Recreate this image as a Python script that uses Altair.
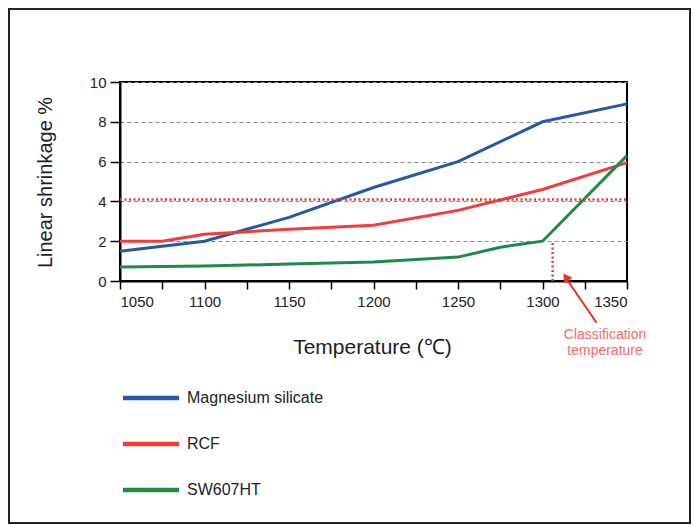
import altair as alt
import pandas as pd

# ---- data ----
series_names = ["Magnesium silicate", "RCF", "SW607HT"]
series_colors = ["#2458a8", "#f23c3c", "#1d8a48"]

mag_temp = [1050, 1100, 1150, 1200, 1250, 1300, 1350]
mag_shrink = [1.5, 2.0, 3.2, 4.7, 6.0, 8.0, 8.9]

rcf_temp = [1050, 1075, 1100, 1150, 1200, 1250, 1300, 1350]
rcf_shrink = [2.0, 2.0, 2.35, 2.6, 2.8, 3.55, 4.6, 5.95]

sw_temp = [1050, 1100, 1150, 1200, 1250, 1275, 1300, 1350]
sw_shrink = [0.7, 0.75, 0.85, 0.95, 1.2, 1.7, 2.0, 6.3]

threshold = 4.1            # red dotted horizontal line (%)
class_temp = 1306          # classification temperature (vertical dotted)
class_level = 2.0

x_ticks = list(range(1050, 1351, 25))
y_ticks = [0, 2, 4, 6, 8, 10]

FONT = "Liberation Sans"
W, H = 507, 199

rows = []
for name, ts, vs in [("Magnesium silicate", mag_temp, mag_shrink),
                     ("RCF", rcf_temp, rcf_shrink),
                     ("SW607HT", sw_temp, sw_shrink)]:
    for t, v in zip(ts, vs):
        rows.append({"series": name, "temp": t, "shrink": v})
df = pd.DataFrame(rows)

xscale = alt.Scale(domain=[1050, 1350], nice=False, zero=False)
yscale = alt.Scale(domain=[0, 10], nice=False, zero=False)
color = alt.Color("series:N", scale=alt.Scale(domain=series_names, range=series_colors), legend=None)

x_axis = alt.Axis(values=x_ticks, format="d", labelOverlap=False,
                  labelExpr="datum.value % 50 == 0 ? datum.label : ''",
                  grid=False, tickSize=8, tickWidth=1.5, labelPadding=5, labelFontSize=15,
                  title="Temperature (℃)", titleFontSize=21, titleX=252, titleY=66,
                  titleBaseline="middle", titleAlign="center")
y_axis = alt.Axis(values=y_ticks, labelOverlap=False, grid=True, gridDash=[4, 3],
                  gridColor="#8c8c8c", gridWidth=1,
                  tickSize=10, tickWidth=1.5, labelPadding=4, labelFontSize=15,
                  title="Linear shrinkage %", titleFontSize=20, titleX=-75, titleY=100,
                  titleAngle=270, titleBaseline="middle", titleAlign="center")

X = alt.X("temp:Q", scale=xscale, axis=x_axis)
Y = alt.Y("shrink:Q", scale=yscale, axis=y_axis)

lines = alt.Chart(df).mark_line(strokeWidth=3).encode(x=X, y=Y, color=color)

thr_df = pd.DataFrame({"temp": [1050], "temp2": [1350], "shrink": [threshold]})
thr = alt.Chart(thr_df).mark_rule(color="#d8403c", strokeDash=[2, 2.5], strokeWidth=2.5).encode(
    x=X, x2="temp2:Q", y=Y
)

vert_df = pd.DataFrame({"temp": [class_temp], "shrink": [0], "shrink2": [class_level]})
vert = alt.Chart(vert_df).mark_rule(color="#d8403c", strokeDash=[2, 2.5], strokeWidth=2.5).encode(
    x=X, y=Y, y2="shrink2:Q"
)

arrow_df = pd.DataFrame({"temp": [1332], "shrink": [-2.1], "temp2": [1313.8], "shrink2": [0.15]})
arrow = alt.Chart(arrow_df).mark_rule(color="#e8302c", strokeWidth=2).encode(
    x=X, y=Y, x2="temp2:Q", y2="shrink2:Q"
)
head_df = pd.DataFrame({"temp": [1313.8], "shrink": [0.2]})
head = alt.Chart(head_df).mark_point(shape="triangle-up", filled=True, size=100, angle=326,
                                     color="#e8302c", opacity=1).encode(x=X, y=Y)

note_df = pd.DataFrame({"temp": [1337, 1337], "shrink": [-2.72, -3.5],
                        "label": ["Classification", "temperature"]})
note = alt.Chart(note_df).mark_text(color="#f26a6a", fontSize=14, font=FONT, align="center",
                                    baseline="middle").encode(x=X, y=Y, text="label:N")

inner = alt.layer(lines, thr, vert, arrow, head, note)

leg_df = pd.DataFrame({"series": series_names})
leg_y = alt.Y("series:N", scale=alt.Scale(type="point", domain=series_names, range=[316, 408], padding=0),
              axis=None)
leg_rule = alt.Chart(leg_df).mark_rule(strokeWidth=4.5).encode(
    x=alt.value(3), x2=alt.value(59), y=leg_y, color=color
)
leg_text = alt.Chart(leg_df).mark_text(align="left", baseline="middle", fontSize=16, font=FONT,
                                       color="#222222").encode(
    x=alt.value(67), y=leg_y, text="series:N"
)

frame_df = pd.DataFrame({"a": [0]})
frame = alt.Chart(frame_df).mark_rect(filled=False, stroke="#222222", strokeWidth=2).encode(
    x=alt.value(-111), x2=alt.value(570), y=alt.value(-73), y2=alt.value(441)
)

chart = alt.layer(inner, leg_rule, leg_text, frame).resolve_scale(y="independent").properties(
    width=W, height=H,
    autosize=alt.AutoSizeParams(type="none"),
    padding={"left": 120, "top": 82, "right": 67, "bottom": 244},
    background="white",
).configure_view(stroke="black", strokeWidth=2).configure_axis(
    labelFont=FONT, titleFont=FONT, labelColor="#222222", titleColor="#222222",
    domainColor="black", domainWidth=2, tickColor="black", titleFontWeight="normal",
)

chart.save("out.html", embed_options={"renderer": "svg", "actions": False})
